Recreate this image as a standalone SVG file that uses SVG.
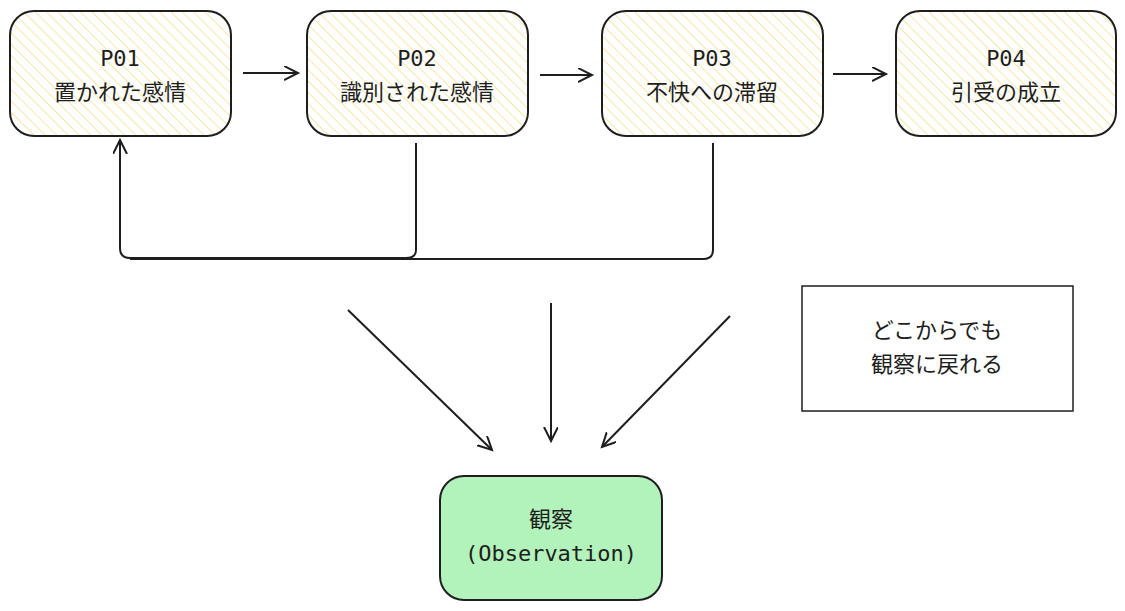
<svg xmlns="http://www.w3.org/2000/svg" width="1125" height="611" viewBox="0 0 1125 611">
<defs>
<pattern id="h" patternUnits="userSpaceOnUse" width="8" height="8" patternTransform="rotate(-45)">
<rect width="8" height="8" fill="#ffffff"/><line x1="0" y1="0" x2="0" y2="8" stroke="#f8e08a" stroke-width="1.5"/>
</pattern>
<marker id="a" markerWidth="20" markerHeight="20" refX="14" refY="7" orient="auto" markerUnits="userSpaceOnUse"><path d="M0,0 L14,7 L0,14" fill="none" stroke="#1e1e1e" stroke-width="2"/></marker>
</defs>
<style>
.n{stroke:#1e1e1e;stroke-width:2}
.t{font-family:"DejaVu Sans Mono","Noto Sans CJK JP",monospace;font-size:22px;fill:#1e1e1e;text-anchor:middle}
.c{fill:none;stroke:#1e1e1e;stroke-width:2}
</style>
<rect width="1125" height="611" fill="#ffffff"/>
<g id="p01"><rect class="n" x="10" y="11" width="221" height="125" rx="24" fill="url(#h)"/><text class="t" x="120" y="66">P01</text><text class="t" x="120" y="100">置かれた感情</text></g>
<g id="p02"><rect class="n" x="307" y="11" width="221" height="125" rx="24" fill="url(#h)"/><text class="t" x="417" y="66">P02</text><text class="t" x="417" y="100">識別された感情</text></g>
<g id="p03"><rect class="n" x="602" y="11" width="221" height="125" rx="24" fill="url(#h)"/><text class="t" x="712" y="66">P03</text><text class="t" x="712" y="100">不快への滞留</text></g>
<g id="p04"><rect class="n" x="896" y="11" width="220" height="125" rx="24" fill="url(#h)"/><text class="t" x="1006" y="66">P04</text><text class="t" x="1006" y="100">引受の成立</text></g>
<g id="obs"><rect class="n" x="440" y="476" width="222" height="124" rx="24" fill="#b2f2bb"/><text class="t" x="551" y="527">観察</text><text class="t" x="551" y="561">(Observation)</text></g>
<g id="note"><rect x="802" y="286" width="271" height="125" fill="#ffffff" stroke="#1e1e1e" stroke-width="1.5"/><text class="t" x="937" y="338">どこからでも</text><text class="t" x="937" y="372">観察に戻れる</text></g>
<g id="connectors">
<line class="c" x1="243" y1="73" x2="298" y2="73" marker-end="url(#a)"/>
<line class="c" x1="540" y1="75" x2="592" y2="75" marker-end="url(#a)"/>
<line class="c" x1="833" y1="74" x2="886" y2="74" marker-end="url(#a)"/>
<path class="c" d="M416,143 L416,250 Q416,258 406,258 L130,258 Q120,258 120,248 L120,140" marker-end="url(#a)"/>
<path class="c" d="M713,143 L713,250 Q713,259 703,259 L130,259"/>
<line class="c" x1="348" y1="310" x2="492" y2="450" marker-end="url(#a)"/>
<line class="c" x1="551" y1="303" x2="551" y2="441" marker-end="url(#a)"/>
<line class="c" x1="730" y1="316" x2="602" y2="447" marker-end="url(#a)"/>
</g>
</svg>
